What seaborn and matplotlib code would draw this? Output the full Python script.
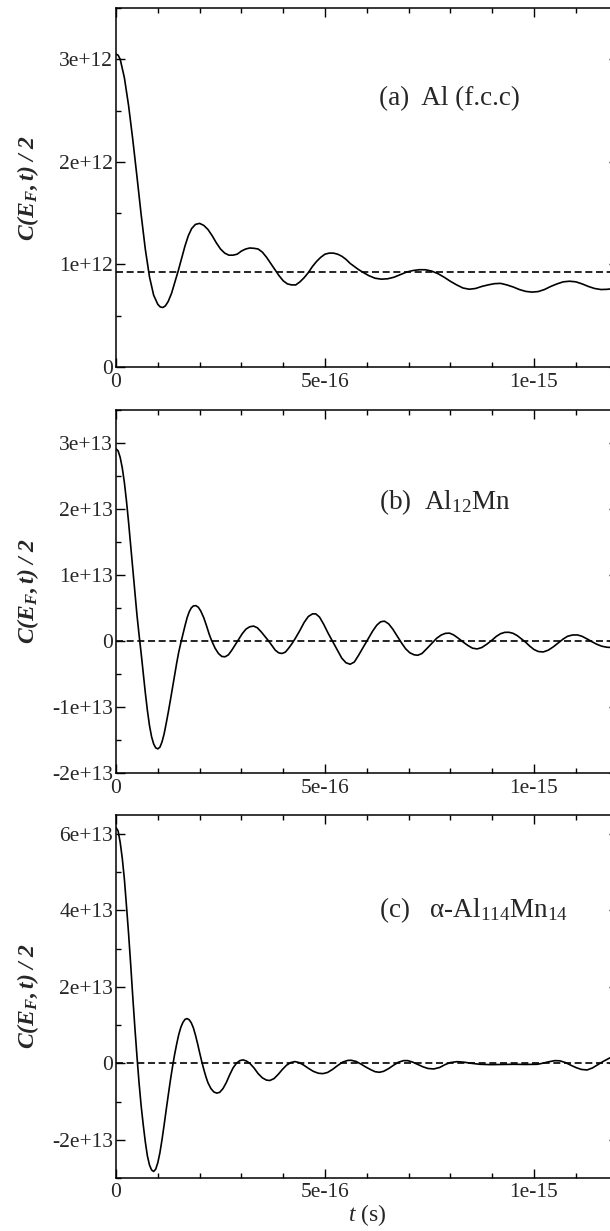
import numpy as np
import pandas as pd
import matplotlib
matplotlib.use('Agg')
import matplotlib.pyplot as plt
import seaborn as sns
from matplotlib.ticker import MultipleLocator

# ─── Data ─────────────────────────────────────────────────────────────────
# time in units of 1e-16 s
T_UNIT = 1e-16

# (a) Al (f.c.c), C/2 in units of 1e12
T_A = [0, 0.05, 0.1, 0.2, 0.3, 0.4, 0.5, 0.6, 0.7, 0.8, 0.9, 1.0, 1.06, 1.12,
       1.18, 1.25, 1.33, 1.41, 1.49, 1.57, 1.65, 1.73, 1.81, 1.9, 2.0, 2.1,
       2.2, 2.3, 2.4, 2.5, 2.6, 2.7, 2.8, 2.9, 3.0, 3.1, 3.2, 3.3, 3.4, 3.5,
       3.6, 3.7, 3.8, 3.9, 4.0, 4.1, 4.2, 4.3, 4.4, 4.5, 4.6, 4.7, 4.8, 4.9,
       5.0, 5.1, 5.2, 5.3, 5.4, 5.5, 5.6, 5.7, 5.8, 5.92, 6.05, 6.2, 6.35,
       6.5, 6.65, 6.8, 6.95, 7.1, 7.25, 7.4, 7.55, 7.7, 7.85, 8.0, 8.15, 8.3,
       8.45, 8.6, 8.75, 8.9, 9.05, 9.2, 9.35, 9.5, 9.65, 9.8, 9.95, 10.1,
       10.25, 10.4, 10.55, 10.7, 10.85, 11.0, 11.15, 11.3, 11.45, 11.6, 11.75,
       11.9, 12.0]
C_A = [3.05, 3.04, 3.00, 2.82, 2.55, 2.22, 1.86, 1.49, 1.15, 0.88, 0.70, 0.61,
       0.585, 0.58, 0.595, 0.64, 0.72, 0.83, 0.94, 1.06, 1.18, 1.28, 1.35,
       1.39, 1.40, 1.38, 1.34, 1.28, 1.21, 1.15, 1.11, 1.09, 1.09, 1.10, 1.13,
       1.15, 1.16, 1.157, 1.15, 1.12, 1.07, 1.01, 0.95, 0.89, 0.84, 0.81, 0.80,
       0.80, 0.83, 0.87, 0.92, 0.98, 1.03, 1.07, 1.10, 1.11, 1.11, 1.10, 1.08,
       1.05, 1.01, 0.98, 0.95, 0.92, 0.89, 0.865, 0.856, 0.86, 0.875, 0.90,
       0.925, 0.94, 0.948, 0.948, 0.935, 0.91, 0.875, 0.835, 0.80, 0.77, 0.758,
       0.765, 0.785, 0.80, 0.812, 0.815, 0.80, 0.78, 0.755, 0.737, 0.73, 0.735,
       0.755, 0.785, 0.81, 0.83, 0.836, 0.83, 0.81, 0.785, 0.765, 0.755, 0.757,
       0.765, 0.77]

# (b) Al12Mn, C/2 in units of 1e13
T_B = [0, 0.05, 0.1, 0.15, 0.2, 0.25, 0.3, 0.35, 0.4, 0.45, 0.5, 0.55, 0.6,
       0.65, 0.7, 0.75, 0.8, 0.85, 0.9, 0.95, 1.0, 1.05, 1.1, 1.15, 1.2, 1.25,
       1.3, 1.35, 1.4, 1.45, 1.5, 1.55, 1.6, 1.65, 1.7, 1.75, 1.8, 1.85, 1.91,
       1.97, 2.03, 2.1, 2.17, 2.23, 2.29, 2.37, 2.45, 2.53, 2.61, 2.69, 2.77,
       2.85, 2.93, 3.02, 3.11, 3.2, 3.29, 3.38, 3.47, 3.56, 3.65, 3.73, 3.81,
       3.89, 3.97, 4.05, 4.13, 4.21, 4.29, 4.4, 4.5, 4.6, 4.7, 4.78, 4.87,
       4.97, 5.08, 5.2, 5.3, 5.4, 5.5, 5.6, 5.7, 5.8, 5.92, 6.04, 6.14, 6.24,
       6.33, 6.42, 6.52, 6.62, 6.72, 6.83, 6.93, 7.03, 7.13, 7.22, 7.32, 7.43,
       7.55, 7.67, 7.78, 7.88, 7.98, 8.08, 8.19, 8.31, 8.42, 8.53, 8.64, 8.75,
       8.87, 8.99, 9.1, 9.2, 9.3, 9.4, 9.5, 9.6, 9.7, 9.8, 9.9, 10.0, 10.1,
       10.22, 10.34, 10.46, 10.58, 10.7, 10.8, 10.92, 11.04, 11.15, 11.27,
       11.38, 11.5, 11.62, 11.74, 11.86, 12.0]
C_B = [2.91, 2.88, 2.78, 2.62, 2.40, 2.12, 1.80, 1.45, 1.10, 0.75, 0.40, 0.10,
       -0.18, -0.48, -0.78, -1.05, -1.28, -1.45, -1.56, -1.62, -1.635, -1.61,
       -1.53, -1.41, -1.25, -1.08, -0.90, -0.71, -0.52, -0.34, -0.17, -0.03,
       0.10, 0.23, 0.35, 0.44, 0.50, 0.53, 0.535, 0.51, 0.45, 0.35, 0.22, 0.10,
       0.0, -0.11, -0.19, -0.235, -0.24, -0.21, -0.14, -0.06, 0.02, 0.11, 0.18,
       0.215, 0.225, 0.20, 0.14, 0.07, 0.0, -0.07, -0.14, -0.18, -0.19, -0.17,
       -0.11, -0.04, 0.04, 0.16, 0.28, 0.37, 0.41, 0.41, 0.36, 0.25, 0.11,
       -0.03, -0.15, -0.26, -0.33, -0.353, -0.32, -0.22, -0.09, 0.04, 0.15,
       0.24, 0.29, 0.30, 0.26, 0.18, 0.08, -0.03, -0.12, -0.18, -0.21, -0.217,
       -0.19, -0.12, -0.04, 0.04, 0.09, 0.115, 0.118, 0.09, 0.04, -0.02, -0.07,
       -0.11, -0.121, -0.10, -0.05, 0.01, 0.07, 0.11, 0.13, 0.131, 0.115, 0.08,
       0.03, -0.02, -0.08, -0.13, -0.16, -0.167, -0.14, -0.09, -0.03, 0.03,
       0.07, 0.09, 0.091, 0.07, 0.03, -0.01, -0.05, -0.08, -0.095, -0.10, -0.09]

# (c) alpha-Al114Mn14, C/2 in units of 1e13
T_C = [0, 0.05, 0.1, 0.15, 0.2, 0.25, 0.3, 0.35, 0.4, 0.45, 0.5, 0.55, 0.6,
       0.65, 0.7, 0.75, 0.8, 0.85, 0.9, 0.95, 1.0, 1.05, 1.1, 1.15, 1.2, 1.25,
       1.3, 1.35, 1.4, 1.45, 1.5, 1.55, 1.6, 1.65, 1.7, 1.75, 1.8, 1.85, 1.9,
       1.95, 2.0, 2.05, 2.1, 2.15, 2.2, 2.27, 2.34, 2.41, 2.48, 2.56, 2.64,
       2.72, 2.8, 2.88, 2.96, 3.04, 3.12, 3.2, 3.3, 3.4, 3.5, 3.6, 3.68, 3.78,
       3.88, 3.98, 4.08, 4.18, 4.28, 4.38, 4.48, 4.6, 4.72, 4.84, 4.95, 5.06,
       5.18, 5.3, 5.42, 5.54, 5.62, 5.74, 5.86, 5.98, 6.1, 6.2, 6.3, 6.4, 6.52,
       6.64, 6.76, 6.88, 6.98, 7.1, 7.22, 7.34, 7.46, 7.6, 7.74, 7.88, 8.0,
       8.16, 8.32, 8.5, 8.7, 8.96, 9.25, 9.52, 9.8, 10.08, 10.2, 10.35, 10.5,
       10.62, 10.75, 10.88, 11.0, 11.13, 11.27, 11.4, 11.52, 11.64, 11.76,
       11.88, 12.0]
C_C = [6.17, 6.08, 5.78, 5.36, 4.82, 4.12, 3.40, 2.60, 1.75, 0.95, 0.20, -0.50,
       -1.10, -1.60, -2.05, -2.42, -2.66, -2.79, -2.83, -2.77, -2.60, -2.34,
       -2.0, -1.62, -1.22, -0.83, -0.45, -0.10, 0.22, 0.50, 0.75, 0.94, 1.07,
       1.15, 1.17, 1.14, 1.06, 0.93, 0.74, 0.52, 0.28, 0.05, -0.16, -0.35,
       -0.51, -0.66, -0.75, -0.78, -0.76, -0.66, -0.50, -0.30, -0.12, 0.0,
       0.07, 0.09, 0.06, 0.0, -0.12, -0.27, -0.38, -0.44, -0.45, -0.40, -0.29,
       -0.16, -0.05, 0.02, 0.045, 0.02, -0.04, -0.13, -0.21, -0.26, -0.27,
       -0.24, -0.16, -0.06, 0.03, 0.075, 0.08, 0.05, -0.02, -0.10, -0.17,
       -0.22, -0.235, -0.21, -0.14, -0.05, 0.03, 0.07, 0.07, 0.03, -0.03,
       -0.09, -0.135, -0.148, -0.11, -0.03, 0.02, 0.043, 0.03, 0.0, -0.025,
       -0.035, -0.03, -0.026, -0.03, -0.026, 0.0, 0.04, 0.07, 0.065, 0.02,
       -0.05, -0.11, -0.16, -0.174, -0.12, -0.04, 0.04, 0.11, 0.18, 0.25]

SCALES = [1e12, 1e13, 1e13]
BASELINES = [0.93e12, 0.0, 0.0]
LABELS = ['(a)  Al (f.c.c)',
          r'(b)  Al$\mathregular{_{12}}$Mn',
          r'(c)   α-Al$\mathregular{_{114}}$Mn$\mathregular{_{14}}$']
LABEL_Y = [2.62e12, 2.1e13, 4.0e13]

YLIMS = [(0, 3.5e12), (-2e13, 3.5e13), (-3e13, 6.5e13)]
YTICKS = [[0, 1e12, 2e12, 3e12],
          [-2e13, -1e13, 0, 1e13, 2e13, 3e13],
          [-2e13, 0, 2e13, 4e13, 6e13]]
YTICK_LABELS = [['0', '1e+12', '2e+12', '3e+12'],
                ['-2e+13', '-1e+13', '0', '1e+13', '2e+13', '3e+13'],
                ['-2e+13', '0', '2e+13', '4e+13', '6e+13']]
YMINOR = [0.5e12, 0.5e13, 1e13]

XTICKS = [0, 5e-16, 1e-15]
XTICK_LABELS = ['0', '5e-16', '1e-15']

# ─── Style ────────────────────────────────────────────────────────────────
sns.set_style('ticks')
plt.rcParams.update({
    'font.family': ['Liberation Serif', 'DejaVu Serif'],
    'mathtext.fontset': 'custom',
    'mathtext.rm': 'Liberation Serif',
    'mathtext.it': 'Liberation Serif:italic',
    'mathtext.bf': 'Liberation Serif:bold',
    'axes.linewidth': 1.1,
    'axes.edgecolor': 'black',
    'xtick.labelsize': 15.5,
    'ytick.labelsize': 15.5,
    'xtick.major.pad': 4,
    'ytick.major.pad': 2,
})

fig = plt.figure(figsize=(6.1, 12.31), dpi=100)

# axes boxes: the right edge runs a little past the figure (cropped original)
POS = [
    [0.1902, 0.7019, 0.8223, 0.2916],
    [0.1902, 0.3721, 0.8223, 0.2949],
    [0.1902, 0.0431, 0.8223, 0.2949],
]

series = [(T_A, C_A), (T_B, C_B), (T_C, C_C)]

for i, (tt, cc) in enumerate(series):
    ax = fig.add_axes(POS[i])
    df = pd.DataFrame({'t': np.array(tt) * T_UNIT,
                       'c': np.array(cc) * SCALES[i]})
    ax.axhline(BASELINES[i], color='black', lw=1.2, dashes=(4.2, 2.2))
    sns.lineplot(data=df, x='t', y='c', ax=ax, color='black', lw=1.2,
                 estimator=None, sort=False)

    ax.set_xlim(0, 1.2e-15)
    ax.set_ylim(*YLIMS[i])
    ax.set_xticks(XTICKS)
    ax.set_xticklabels(XTICK_LABELS)
    ax.xaxis.set_minor_locator(MultipleLocator(1e-16))
    ax.set_yticks(YTICKS[i])
    ax.set_yticklabels(YTICK_LABELS[i])
    ax.yaxis.set_minor_locator(MultipleLocator(YMINOR[i]))
    ax.tick_params(which='both', direction='in', top=True, right=True,
                   width=1.0, color='black')
    ax.tick_params(which='major', length=6.5)
    ax.tick_params(which='minor', length=3.6)

    ax.set_ylabel(r'$\mathregular{C(E_F,t)\ /\ 2}$', fontsize=17,
                  fontweight='bold', fontstyle='italic')
    ax.yaxis.set_label_coords(-0.15, 0.5)
    if i == 2:
        ax.set_xlabel(r'$t$ (s)', fontsize=17, labelpad=0)
    else:
        ax.set_xlabel('')

    ax.text(6.3e-16, LABEL_Y[i], LABELS[i], fontsize=19.5, va='center')

fig.savefig('out.png', dpi=100)
